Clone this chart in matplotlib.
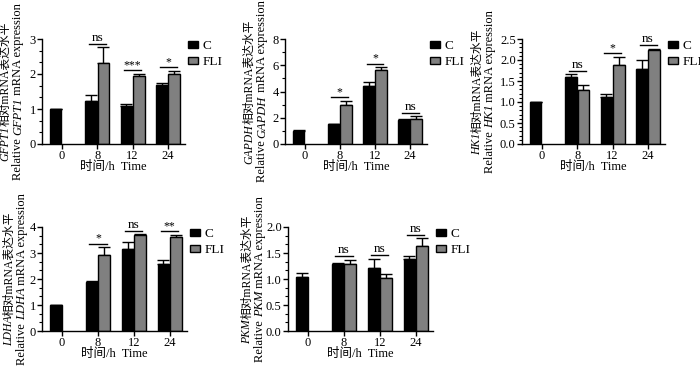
import numpy as np
import matplotlib
matplotlib.use('Agg')
import matplotlib.pyplot as plt
from matplotlib.ticker import AutoMinorLocator, MultipleLocator, FormatStrFormatter

FAM = ['Liberation Serif', 'Noto Sans CJK SC']
plt.rcParams['font.family'] = FAM
plt.rcParams['axes.linewidth'] = 1.0

W, H = 700, 370

times = ['0', '8', '12', '24']
groups = ['C', 'FLI']
nan = np.nan

# GFPT1
gfpt1_c = [1.00, 1.23, 1.10, 1.68]
gfpt1_c_err = [0.01, 0.17, 0.03, 0.06]
gfpt1_fli = [nan, 2.32, 1.94, 1.99]
gfpt1_fli_err = [nan, 0.44, 0.07, 0.10]
gfpt1_sig = ['', 'ns', '***', '*']

# GAPDH
gapdh_c = [1.00, 1.52, 4.44, 1.83]
gapdh_c_err = [0.03, 0.04, 0.30, 0.06]
gapdh_fli = [nan, 2.97, 5.61, 1.92]
gapdh_fli_err = [nan, 0.33, 0.23, 0.20]
gapdh_sig = ['', '*', '*', 'ns']

# HK1
hk1_c = [1.00, 1.59, 1.13, 1.79]
hk1_c_err = [0.01, 0.07, 0.06, 0.21]
hk1_fli = [nan, 1.29, 1.87, 2.25]
hk1_fli_err = [nan, 0.11, 0.21, 0.02]
hk1_sig = ['', 'ns', '*', 'ns']

# LDHA
ldha_c = [1.00, 1.88, 3.14, 2.59]
ldha_c_err = [0.01, 0.06, 0.28, 0.15]
ldha_fli = [nan, 2.94, 3.68, 3.63]
ldha_fli_err = [nan, 0.28, 0.04, 0.07]
ldha_sig = ['', '*', 'ns', '**']

# PKM
pkm_c = [1.03, 1.29, 1.21, 1.38]
pkm_c_err = [0.09, 0.02, 0.18, 0.06]
pkm_fli = [nan, 1.28, 1.02, 1.63]
pkm_fli_err = [nan, 0.09, 0.08, 0.15]
pkm_sig = ['', 'ns', 'ns', 'ns']

panels = [
    # gene, c, c_err, fli, fli_err, sig, ymax, major, minor_div, axes px (x0, x1, ytop, ybot), label offsets
    ('GFPT1', gfpt1_c, gfpt1_c_err, gfpt1_fli, gfpt1_fli_err, gfpt1_sig, 3, 1, 3, (42, 185, 39, 144), (-34, -21)),
    ('GAPDH', gapdh_c, gapdh_c_err, gapdh_fli, gapdh_fli_err, gapdh_sig, 8, 2, 2, (285, 427, 39, 144), (-33, -20)),
    ('HK1', hk1_c, hk1_c_err, hk1_fli, hk1_fli_err, hk1_sig, 2.5, 0.5, 5, (522, 665, 39, 144), (-42, -29)),
    ('LDHA', ldha_c, ldha_c_err, ldha_fli, ldha_fli_err, ldha_sig, 4, 1, 3, (42, 187, 227, 331), (-30, -17)),
    ('PKM', pkm_c, pkm_c_err, pkm_fli, pkm_fli_err, pkm_sig, 2, 0.5, 3, (288, 433, 227, 331), (-38, -25)),
]

fig = plt.figure(figsize=(W / 100, H / 100), dpi=100)
renderer = fig.canvas.get_renderer()


def vlabel(xpx, ycpx, parts, size=9.0):
    # rotated label made of several pieces so the gene name can be italic
    texts = []
    for s, style in parts:
        t = fig.text(xpx / W, 0, s, rotation=90, rotation_mode='anchor',
                     ha='left', va='baseline', fontsize=size, style=style, family=FAM)
        texts.append(t)
    hs = [t.get_window_extent(renderer).height for t in texts]
    y = (H - ycpx) - sum(hs) / 2
    for t, h in zip(texts, hs):
        t.set_y(y / H)
        y += h


x = np.arange(len(times))
bw = 0.33
for gene, c, ce, f, fe, sig, ymax, major, mdiv, (x0, x1, yt, yb), (o1, o2) in panels:
    ax = fig.add_axes([x0 / W, 1 - yb / H, (x1 - x0) / W, (yb - yt) / H])
    c = np.array(c); ce = np.array(ce); f = np.array(f); fe = np.array(fe)
    b1 = ax.bar(x - 0.175, c, bw, color='black', edgecolor='black', linewidth=1.0, label='C', zorder=2)
    b2 = ax.bar(x + 0.175, f, bw, color='#808080', edgecolor='black', linewidth=1.0, label='FLI', zorder=2)
    ax.errorbar(x - 0.175, c, yerr=[np.zeros_like(ce), ce], fmt='none', ecolor='black',
                elinewidth=1.0, capsize=4, capthick=1.0, zorder=1)
    ax.errorbar(x + 0.175, f, yerr=[np.zeros_like(fe), fe], fmt='none', ecolor='black',
                elinewidth=1.0, capsize=4, capthick=1.0, zorder=1)
    pad = 0.035 * ymax
    for i, s in enumerate(sig):
        if not s:
            continue
        top = np.nanmax([c[i] + ce[i], f[i] + fe[i]]) + pad
        ax.plot([x[i] - 0.24, x[i] + 0.24], [top, top], color='black', lw=1.0, clip_on=False)
        if s == 'ns':
            ax.text(x[i], top, s, ha='center', va='bottom', fontsize=9.5)
        else:
            ax.text(x[i], top - 0.01 * ymax, s, ha='center', va='bottom', fontsize=8.5)
    ax.set_xlim(-0.56, 3.48)
    ax.set_ylim(0, ymax)
    ax.yaxis.set_major_locator(MultipleLocator(major))
    ax.yaxis.set_minor_locator(AutoMinorLocator(mdiv))
    if major < 1:
        ax.yaxis.set_major_formatter(FormatStrFormatter('%.1f'))
    ax.set_xticks(x)
    ax.set_xticklabels(times)
    ax.tick_params(axis='both', which='major', labelsize=9, length=3.5, width=1.0, pad=1)
    ax.tick_params(axis='y', which='minor', length=2, width=0.8)
    for sp in ['top', 'right']:
        ax.spines[sp].set_visible(False)
    ax.legend(handles=[b1, b2], loc='upper left', bbox_to_anchor=(1.01, 1.0), frameon=False,
              fontsize=9.5, handlelength=0.75, handleheight=0.4, handletextpad=0.4,
              labelspacing=0.3, borderpad=0.1, borderaxespad=0)
    xc = (x0 + x1) / 2
    fig.text(xc / W, 1 - (yb + 23) / H, '时间/h  Time', ha='center', va='center', fontsize=9)
    ycen = (yt + yb) / 2
    vlabel(x0 + o1, ycen, [(gene, 'italic'), ('相对mRNA表达水平', 'normal')], size=8.5)
    vlabel(x0 + o2, ycen, [('Relative ', 'normal'), (gene, 'italic'), (' mRNA expression', 'normal')])

fig.savefig('out.png', dpi=100)
